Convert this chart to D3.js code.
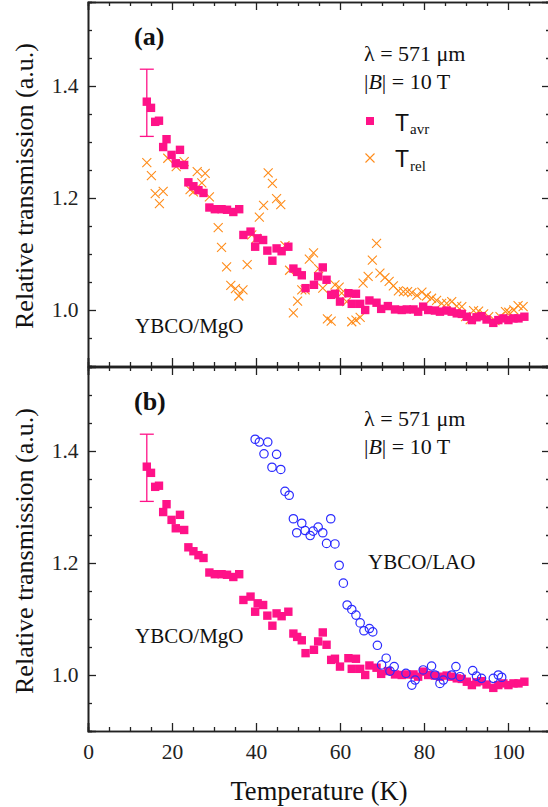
<!DOCTYPE html>
<html lang="en">
<head>
  <meta charset="UTF-8">
  <title>Relative transmission vs temperature</title>
  <script src="https://d3js.org/d3.v7.min.js"></script>
  <style>
    html, body { margin: 0; padding: 0; background: #fff; }
    svg { display: block; }
  </style>
</head>
<body>
<svg id="canvas" width="548" height="807"></svg>
<script>
  // YBCO/MgO, averaged transmission (same curve shown in both panels)
  let tAvr = [14.0,15.0,16.0,16.9,17.9,18.7,19.9,20.9,21.9,22.9,23.9,25.1,26.3,27.5,28.9,30.2,31.8,33.1,34.6,36.0,
    37.0,38.7,39.8,40.4,41.7,42.7,43.9,44.9,46.1,47.7,48.9,49.8,50.9,51.8,53.8,54.8,55.9,56.8,57.9,58.8,
    60.0,62.0,62.8,63.8,64.8,66.0,67.0,68.7,69.8,71.4,73.1,74.7,75.9,77.5,78.6,79.8,81.0,82.6,83.8,85.4,
    86.6,87.8,89.0,90.2,91.4,92.5,93.7,94.9,96.5,97.7,98.9,100.1,101.3,102.5,103.9]
  let avrMgO = [1.372,1.361,1.336,1.338,1.291,1.305,1.277,1.262,1.286,1.259,1.228,1.221,1.214,1.209,1.183,1.180,1.180,1.179,1.175,1.180,
    1.134,1.140,1.113,1.128,1.125,1.106,1.088,1.110,1.105,1.113,1.074,1.068,1.062,1.039,1.045,1.060,1.076,1.054,1.027,1.029,
    1.015,1.030,1.011,1.029,1.011,1.000,1.017,1.013,1.002,1.007,1.001,1.000,1.001,1.001,0.997,1.006,1.000,0.999,0.997,0.999,
    0.997,0.994,0.993,0.988,0.982,0.987,0.989,0.983,0.977,0.982,0.985,0.982,0.985,0.985,0.988]

  // YBCO/MgO, T_rel
  let tRel = [14.0,15.1,16.0,17.0,17.9,19.0,21.0,22.9,24.3,25.1,26.0,27.1,27.9,28.9,31.0,31.8,33.0,34.0,35.1,35.9,
    36.9,37.9,39.0,40.1,40.8,41.8,42.9,43.9,44.9,45.9,46.9,48.0,48.9,49.9,50.9,51.7,52.7,53.7,54.9,55.9,
    57.0,57.9,58.8,59.8,60.4,61.6,62.8,63.8,64.8,65.5,66.7,67.7,68.7,69.5,70.7,71.7,72.7,73.9,75.1,76.1,
    77.1,78.3,79.5,80.6,81.8,83.0,84.2,85.4,86.6,87.8,89.0,89.9,91.0,91.8,93.0,94.2,95.4,96.9,98.1,99.4,
    100.2,101.4,102.4,103.6]
  let relMgO = [1.263,1.240,1.208,1.190,1.212,1.271,1.256,1.265,1.215,1.211,1.247,1.227,1.244,1.202,1.147,1.112,1.077,1.044,1.038,1.025,
    1.036,1.081,1.134,1.128,1.166,1.187,1.245,1.226,1.199,1.188,1.115,1.071,0.995,1.016,1.036,1.036,1.091,1.102,1.074,1.039,
    0.984,0.980,1.045,1.041,1.030,1.015,0.979,0.982,0.987,1.048,1.060,1.089,1.119,1.066,1.058,1.051,1.043,1.034,1.033,1.033,
    1.031,1.026,1.032,1.025,1.021,1.017,1.012,1.012,1.015,1.007,1.006,0.988,0.983,0.999,0.998,0.993,0.988,0.981,0.988,0.997,
    0.996,1.000,1.008,1.006]

  // YBCO/LAO
  let tLAO = [39.8,40.8,41.9,42.8,43.8,44.9,45.9,46.9,47.9,48.9,49.7,50.9,51.7,52.9,53.6,54.8,55.9,56.8,57.8,58.8,
    59.8,60.8,61.7,62.8,63.8,64.8,65.7,67.0,67.8,68.9,69.9,71.0,71.9,72.9,75.7,77.1,77.9,79.8,81.8,82.6,
    83.8,84.6,86.6,87.6,88.6,91.6,92.5,93.7,96.5,97.7,98.5]
  let lao = [1.421,1.416,1.395,1.416,1.371,1.394,1.367,1.328,1.321,1.279,1.254,1.271,1.258,1.249,1.257,1.264,1.254,1.235,1.279,1.234,
    1.196,1.164,1.125,1.117,1.107,1.093,1.079,1.083,1.077,1.053,1.018,1.030,1.007,1.015,1.003,0.982,0.991,1.009,1.016,1.000,
    0.985,0.991,1.000,1.015,0.997,1.008,0.998,0.994,0.994,1.000,0.996]

  // error bar on first point
  let errT = [14.0]
  let errLo = [1.31]
  let errHi = [1.43]

  let xMajor = [0, 20, 40, 60, 80, 100]
  let yMajor = [1.0, 1.2, 1.4]

  const pink = '#ff1288'
  const orange = '#ff8c1a'
  const blue = '#2a2aff'
  const serif = '"Liberation Serif", Tinos, "Times New Roman", "DejaVu Serif", serif'
  const sans = '"Liberation Sans", Arimo, Arial, "DejaVu Sans", sans-serif'

  let svg = d3.select('#canvas')

  let x = d3.scaleLinear().domain([0, 110]).range([88, 550])
  let yA = d3.scaleLinear().domain([0.9, 1.55]).range([366, 2])
  let yB = d3.scaleLinear().domain([0.9, 1.55]).range([731, 367])

  let xMinor = d3.range(0, 111, 5).filter(v => v % 20 !== 0)
  let yMinor = d3.range(0.9, 1.5501, 0.05).map(v => +v.toFixed(2)).filter(v => !yMajor.includes(v))

  let drawFrame = (y, showX) => {
    let [y0, y1] = y.range()
    let g = svg.append('g')
    // left
    g.append('g').attr('transform', `translate(${x(0)},0)`)
      .call(d3.axisLeft(y).tickValues(yMajor).tickSize(-8).tickPadding(9.5).tickFormat(d3.format('.1f')))
    g.append('g').attr('transform', `translate(${x(0)},0)`)
      .call(d3.axisLeft(y).tickValues(yMinor).tickSize(-4).tickFormat(''))
    // right
    g.append('g').attr('transform', `translate(${x(110)},0)`)
      .call(d3.axisRight(y).tickValues(yMajor).tickSize(-8).tickFormat(''))
    g.append('g').attr('transform', `translate(${x(110)},0)`)
      .call(d3.axisRight(y).tickValues(yMinor).tickSize(-4).tickFormat(''))
    // bottom
    g.append('g').attr('transform', `translate(0,${y0})`)
      .call(d3.axisBottom(x).tickValues(xMajor).tickSize(-8).tickPadding(13).tickFormat(showX ? d3.format('d') : ''))
    g.append('g').attr('transform', `translate(0,${y0})`)
      .call(d3.axisBottom(x).tickValues(xMinor).tickSize(-4).tickFormat(''))
    // top
    g.append('g').attr('transform', `translate(0,${y1})`)
      .call(d3.axisTop(x).tickValues(xMajor).tickSize(-8).tickFormat(''))
    g.append('g').attr('transform', `translate(0,${y1})`)
      .call(d3.axisTop(x).tickValues(xMinor).tickSize(-4).tickFormat(''))
    g.selectAll('.domain').attr('stroke', '#222').attr('stroke-width', 1.6)
    g.selectAll('.tick line').attr('stroke', '#222').attr('stroke-width', 1.3)
    g.selectAll('g').attr('font-family', serif)
    g.selectAll('.tick text').attr('font-size', 21.5).attr('fill', '#222')
  }

  let drawSquares = (y, ts, vs) => {
    svg.append('g').selectAll('rect').data(ts).enter().append('rect')
      .attr('x', (d) => x(d) - 4.2).attr('y', (d, i) => y(vs[i]) - 4.2)
      .attr('width', 8.4).attr('height', 8.4).attr('fill', pink)
  }

  let drawCrosses = (y, ts, vs) => {
    svg.append('g').selectAll('path').data(ts).enter().append('path')
      .attr('transform', (d, i) => `translate(${x(d)},${y(vs[i])})`)
      .attr('d', 'M-4.5,-4.5L4.5,4.5M-4.5,4.5L4.5,-4.5')
      .attr('stroke', orange).attr('stroke-width', 1.1).attr('fill', 'none')
  }

  let drawCircles = (y, ts, vs) => {
    svg.append('g').selectAll('circle').data(ts).enter().append('circle')
      .attr('cx', (d) => x(d)).attr('cy', (d, i) => y(vs[i])).attr('r', 4.2)
      .attr('stroke', blue).attr('stroke-width', 1.2).attr('fill', 'none')
  }

  let drawErr = (y) => {
    let g = svg.append('g').attr('stroke', pink).attr('stroke-width', 1.3)
    errT.forEach((t, i) => {
      g.append('line').attr('x1', x(t)).attr('x2', x(t)).attr('y1', y(errHi[i])).attr('y2', y(errLo[i]))
      g.append('line').attr('x1', x(t) - 7).attr('x2', x(t) + 7).attr('y1', y(errHi[i])).attr('y2', y(errHi[i]))
      g.append('line').attr('x1', x(t) - 7).attr('x2', x(t) + 7).attr('y1', y(errLo[i])).attr('y2', y(errLo[i]))
    })
  }

  let addText = (px, py, str, size, weight) => {
    return svg.append('text').attr('x', px).attr('y', py).attr('font-size', size)
      .attr('font-family', serif).attr('fill', '#111')
      .attr('font-weight', weight || 'normal').text(str)
  }

  let drawInfo = (y, label) => {
    let off = y(1.0) - yA(1.0)
    addText(134, 45 + off, label, 26, 'bold')
    addText(364, 61 + off, 'λ = 571 μm', 22)
    let t = addText(364, 89 + off, '', 22)
    t.append('tspan').text('|')
    t.append('tspan').attr('font-style', 'italic').text('B')
    t.append('tspan').text('| = 10 T')
  }

  // panel (a)
  drawFrame(yA, false)
  drawCrosses(yA, tRel, relMgO)
  drawSquares(yA, tAvr, avrMgO)
  drawErr(yA)
  drawInfo(yA, '(a)')
  addText(135, 333, 'YBCO/MgO', 21)

  // legend (a)
  svg.append('rect').attr('x', 366).attr('y', 117).attr('width', 8).attr('height', 8).attr('fill', pink)
  svg.append('path').attr('transform', 'translate(370,158)').attr('d', 'M-4.5,-4.5L4.5,4.5M-4.5,4.5L4.5,-4.5')
    .attr('stroke', orange).attr('stroke-width', 1.1)
  let leg1 = addText(395, 131, '', 15)
  leg1.append('tspan').attr('font-family', sans).attr('font-size', 23).text('T')
  leg1.append('tspan').attr('dx', 1).attr('dy', 3).text('avr')
  let leg2 = addText(395, 167, '', 15)
  leg2.append('tspan').attr('font-family', sans).attr('font-size', 23).text('T')
  leg2.append('tspan').attr('dx', 1).attr('dy', 4).text('rel')

  // panel (b)
  drawFrame(yB, true)
  drawSquares(yB, tAvr, avrMgO)
  drawCircles(yB, tLAO, lao)
  drawErr(yB)
  drawInfo(yB, '(b)')
  addText(135, 643, 'YBCO/MgO', 21)
  addText(368, 569, 'YBCO/LAO', 21)

  // axis titles
  addText(0, 0, 'Relative transmission (a.u.)', 26)
    .attr('transform', `translate(33,${(yA(0.9) + yA(1.55)) / 2 + 2}) rotate(-90)`).attr('text-anchor', 'middle')
  addText(0, 0, 'Relative transmission (a.u.)', 26)
    .attr('transform', `translate(33,${(yB(0.9) + yB(1.55)) / 2 + 2}) rotate(-90)`).attr('text-anchor', 'middle')
  addText(x(55), 800, 'Temperature (K)', 26.5).attr('text-anchor', 'middle')
</script>
</body>
</html>
